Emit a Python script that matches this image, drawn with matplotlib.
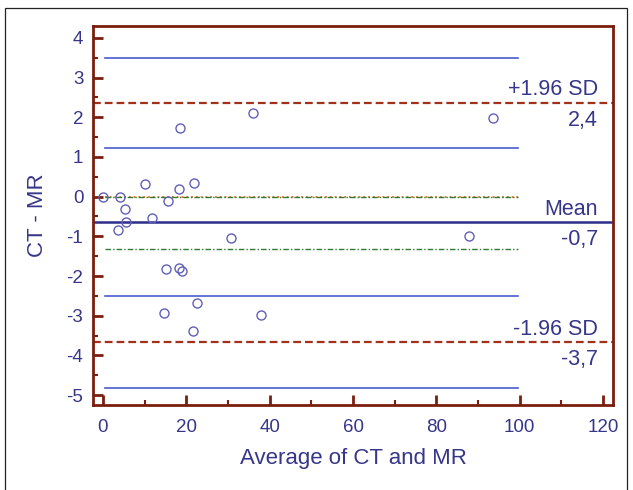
import matplotlib
matplotlib.use("Agg")
import matplotlib.pyplot as plt
from matplotlib.patches import Rectangle
from matplotlib.ticker import MultipleLocator

plt.rcParams['font.family'] = ['Liberation Sans', 'DejaVu Sans']
plt.rcParams['axes.unicode_minus'] = False

# Bland-Altman data
avg = [0, 4, 5.2, 10.0, 5.6, 3.5, 11.8, 15.5, 18.2, 21.9, 18.5, 35.9, 93.6,
       30.7, 87.8, 15.1, 18.2, 18.9, 14.6, 22.5, 21.7, 37.9]
diff = [0, 0, -0.3, 0.33, -0.64, -0.83, -0.55, -0.11, 0.2, 0.35, 1.74, 2.1, 1.98,
        -1.04, -0.99, -1.83, -1.81, -1.87, -2.93, -2.68, -3.39, -2.99]

mean_diff = -0.65
mean_ci = [0.0, -1.33]
upper_loa = 2.37
upper_ci = [3.5, 1.22]
lower_loa = -3.67
lower_ci = [-2.5, -4.81]
ci_x = [0.5, 99.5]

text_col = '#36368a'
spine_col = '#7a1e0e'
blue = '#4a5bd0'
dark_blue = '#2d2d8a'
red = '#a3301a'
green = '#2f7d32'
orange = '#e07020'

fig = plt.figure(figsize=(6.33, 4.9), dpi=100)
ax = fig.add_axes([93 / 633, 1 - 405 / 490, 520 / 633, 379 / 490])

# outer frame around the figure
fig.patches.append(Rectangle((5 / 633, -0.05), 622 / 633, 1.05 - 8 / 490,
                             transform=fig.transFigure, fill=False,
                             edgecolor='#222222', linewidth=0.9))

# line of equality and CI of mean
ax.plot(ci_x, [0, 0], color=orange, linestyle=':', linewidth=1.3)
for v in mean_ci:
    ax.plot(ci_x, [v, v], color=green, linestyle='-.', linewidth=1.0, dashes=(4, 1.5, 1, 1.5))

# CIs of limits of agreement
for v in upper_ci + lower_ci:
    ax.plot(ci_x, [v, v], color=blue, linewidth=1.2)

# mean and limits of agreement across the full width
ax.axhline(mean_diff, color=dark_blue, linewidth=1.8)
ax.axhline(upper_loa, color=red, linestyle='--', linewidth=1.6, dashes=(3.5, 1.8))
ax.axhline(lower_loa, color=red, linestyle='--', linewidth=1.6, dashes=(3.5, 1.8))

ax.plot(avg, diff, 'o', markerfacecolor='none', markeredgecolor='#6060b8',
        markersize=6.5, markeredgewidth=1.0)

ax.set_xlim(-2.4, 122.4)
ax.set_ylim(-5.25, 4.3)
ax.xaxis.set_major_locator(MultipleLocator(20))
ax.xaxis.set_minor_locator(MultipleLocator(10))
ax.yaxis.set_major_locator(MultipleLocator(1))
ax.yaxis.set_minor_locator(MultipleLocator(0.5))

for side in ['left', 'bottom', 'right', 'top']:
    ax.spines[side].set_color(spine_col)
    ax.spines[side].set_linewidth(2.0)

ax.tick_params(which='major', direction='in', length=7, width=2, color=spine_col,
               labelcolor=text_col, labelsize=13.5)
ax.tick_params(which='minor', direction='in', length=3.5, width=1.5, color=spine_col)
ax.tick_params(axis='y', which='major', pad=7)
ax.tick_params(axis='x', which='major', pad=10)

ax.set_xlabel('Average of CT and MR', color=text_col, fontsize=16, labelpad=9)
ax.set_ylabel('CT - MR', color=text_col, fontsize=16, labelpad=13)

tx = 118.8
labels = [(upper_loa, '+1.96 SD', '2,4'),
          (mean_diff, 'Mean', '-0,7'),
          (lower_loa, '-1.96 SD', '-3,7')]
for y, top, bottom in labels:
    ax.annotate(top, (tx, y), xytext=(0, 2), textcoords='offset points',
                ha='right', va='bottom', color=text_col, fontsize=15.5)
    ax.annotate(bottom, (tx, y), xytext=(0, -5), textcoords='offset points',
                ha='right', va='top', color=text_col, fontsize=15.5)

fig.savefig('out.png', dpi=100)
